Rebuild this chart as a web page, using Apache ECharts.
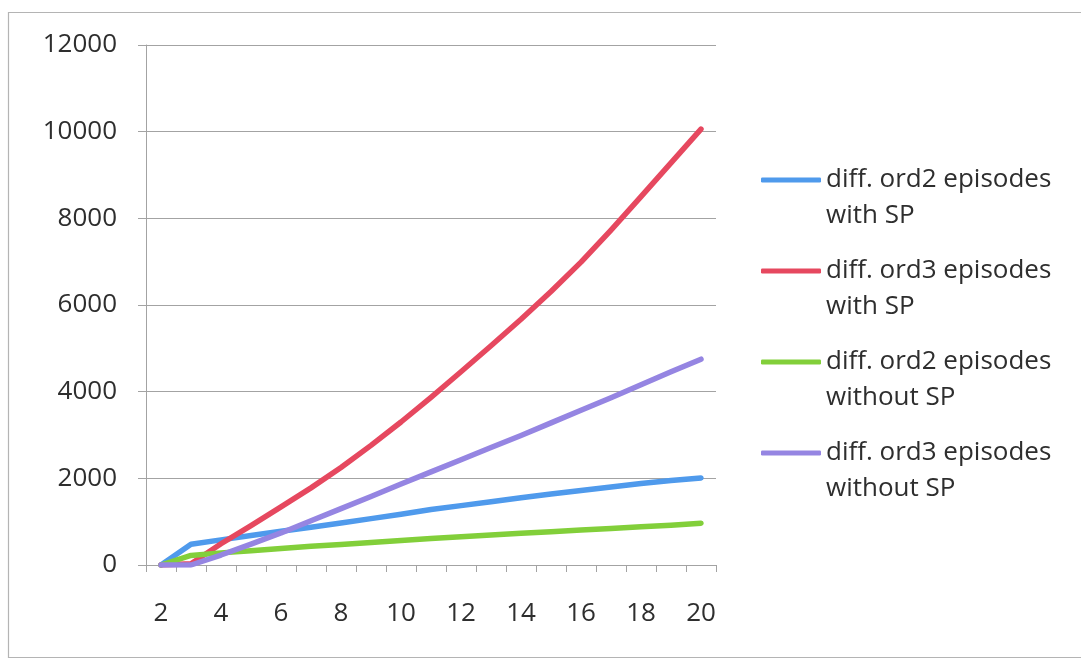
<!DOCTYPE html>
<html>
<head>
<meta charset="utf-8">
<script src="https://cdn.jsdelivr.net/npm/echarts@6/dist/echarts.min.js"></script>
<style>
  html, body { margin: 0; padding: 0; background: #ffffff; }
  #chart { width: 1081px; height: 659px; }
</style>
</head>
<body>
<div id="chart"></div>
<script>
// Number of distinct values (x) per setting
const categories = ['2','3','4','5','6','7','8','9','10','11','12','13','14','15','16','17','18','19','20'];

// Counts of distinct episodes for each setting
const ord2WithSP    = [0, 480, 580, 680, 780, 870, 970, 1070, 1170, 1280, 1370, 1460, 1550, 1640, 1720, 1800, 1880, 1950, 2010];
const ord3WithSP    = [0, 30, 490, 910, 1340, 1780, 2250, 2760, 3300, 3870, 4460, 5060, 5670, 6310, 6990, 7730, 8500, 9280, 10060];
const ord2WithoutSP = [0, 220, 280, 330, 380, 430, 475, 520, 565, 610, 650, 690, 730, 770, 805, 840, 880, 920, 965];
const ord3WithoutSP = [0, 0, 230, 480, 740, 1020, 1300, 1580, 1870, 2150, 2430, 2710, 2990, 3280, 3570, 3860, 4160, 4460, 4750];

const seriesNames = [
  'diff. ord2 episodes\nwith SP',
  'diff. ord3 episodes\nwith SP',
  'diff. ord2 episodes\nwithout SP',
  'diff. ord3 episodes\nwithout SP'
];
const seriesColors = ['#4f9aec', '#e6485f', '#82cf3a', '#9585e2'];
const seriesValues = [ord2WithSP, ord3WithSP, ord2WithoutSP, ord3WithoutSP];

const axisGray = '#a3a3a3';
const textColor = '#2e2e2e';
const fontFamily = '"Open Sans", sans-serif';

const chart = echarts.init(document.getElementById('chart'), null, { renderer: 'canvas' });

chart.setOption({
  backgroundColor: '#ffffff',
  animation: false,
  textStyle: { fontFamily: fontFamily },
  graphic: [{
    type: 'rect',
    shape: { x: 8.5, y: 12.5, width: 1090, height: 645 },
    style: { fill: 'none', stroke: '#b4b4b4', lineWidth: 1.2 },
    silent: true
  }],
  grid: { left: 146, right: 365, top: 45, bottom: 94 },
  legend: {
    orient: 'vertical',
    left: 761,
    top: 126,
    padding: 0,
    itemWidth: 60,
    itemHeight: 5,
    itemGap: -17,
    icon: 'roundRect',
    data: seriesNames,
    // a leading blank line keeps the key mark level with the first text line
    formatter: function (name) { return ' \n' + name; },
    textStyle: {
      fontFamily: fontFamily,
      fontSize: 26,
      lineHeight: 36,
      color: textColor
    }
  },
  xAxis: {
    type: 'category',
    data: categories,
    boundaryGap: true,
    axisLine: { show: true, lineStyle: { color: axisGray, width: 1 } },
    axisTick: { show: true, interval: 0, length: 7, lineStyle: { color: axisGray } },
    axisLabel: {
      interval: 1,
      margin: 36,
      color: textColor,
      fontSize: 26,
      fontFamily: fontFamily
    },
    splitLine: { show: false }
  },
  yAxis: {
    type: 'value',
    min: 0,
    max: 12000,
    interval: 2000,
    axisLine: { show: true, lineStyle: { color: axisGray, width: 1 } },
    axisTick: { show: true, length: 8, lineStyle: { color: axisGray } },
    axisLabel: {
      margin: 29,
      color: textColor,
      fontSize: 26,
      fontFamily: fontFamily,
      formatter: function (v) { return String(v); }
    },
    splitLine: { show: true, lineStyle: { color: axisGray, width: 1 } }
  },
  series: seriesValues.map(function (vals, i) {
    return {
      name: seriesNames[i],
      type: 'line',
      data: vals,
      symbol: 'none',
      showSymbol: false,
      smooth: false,
      color: seriesColors[i],
      lineStyle: { width: 5.5, color: seriesColors[i], cap: 'round', join: 'round' },
      emphasis: { disabled: true }
    };
  })
});
</script>
</body>
</html>
